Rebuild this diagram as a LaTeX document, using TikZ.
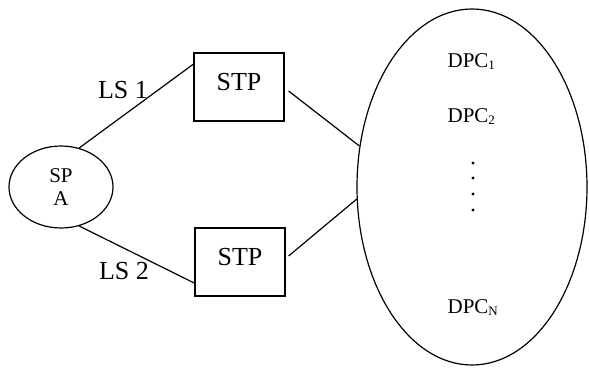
\documentclass[tikz,border=0pt]{standalone}
\usepackage{fontspec}
\setmainfont{Liberation Serif}
\usetikzlibrary{shapes.geometric}
\newcommand{\bigfont}{\fontsize{26}{30}\selectfont}
\newcommand{\smfont}{\fontsize{21}{25}\selectfont}
\newcommand{\subtxt}[1]{\raisebox{-2pt}{\fontsize{13}{13}\selectfont #1}}
\begin{document}
\begin{tikzpicture}[x=1pt,y=-1pt,
  every path/.style={line width=1.2pt},
  stpbox/.style={draw, rectangle, minimum width=90pt, minimum height=68pt, inner sep=0pt, font=\bigfont, text depth=11pt},
  lslabel/.style={inner sep=0pt, font=\bigfont},
  dpclabel/.style={inner sep=0pt, font=\smfont, anchor=base west},
  conn/.style={draw, line width=1.2pt}
]
\useasboundingbox (0,0) rectangle (589,367);
\node[draw, ellipse, minimum width=104pt, minimum height=82pt, inner sep=0pt, align=center, font=\smfont] (sp) at (61,187) {SP\\[-2pt]A};
\node[stpbox] (stp1) at (239,87) {STP};
\node[stpbox] (stp2) at (240,262) {STP};
\node[draw, ellipse, minimum width=230pt, minimum height=356pt, inner sep=0pt] (dpc) at (472,187) {};
\node[lslabel] (ls1) at (123,90) {LS 1};
\node[lslabel] (ls2) at (124,271) {LS 2};
\node[dpclabel] (d1) at (447,67) {DPC\subtxt{1}};
\node[dpclabel] (d2) at (447,122) {DPC\subtxt{2}};
\node[dpclabel] (dn) at (447,313) {DPC\subtxt{N}};
\foreach \yy in {163,178,194,210} \fill (473,\yy) circle (1.6pt);
\draw[conn] (sp.65) -- ([xshift=1pt,yshift=-11pt]stp1.north west);
\draw[conn] (sp.-65) -- ([xshift=1pt,yshift=13pt]stp2.south west);
\draw[conn] ([xshift=4pt,yshift=-4pt]stp1.east) -- (dpc.160.7);
\draw[conn] ([xshift=3pt,yshift=6pt]stp2.east) -- (dpc.186.5);
\end{tikzpicture}
\end{document}
